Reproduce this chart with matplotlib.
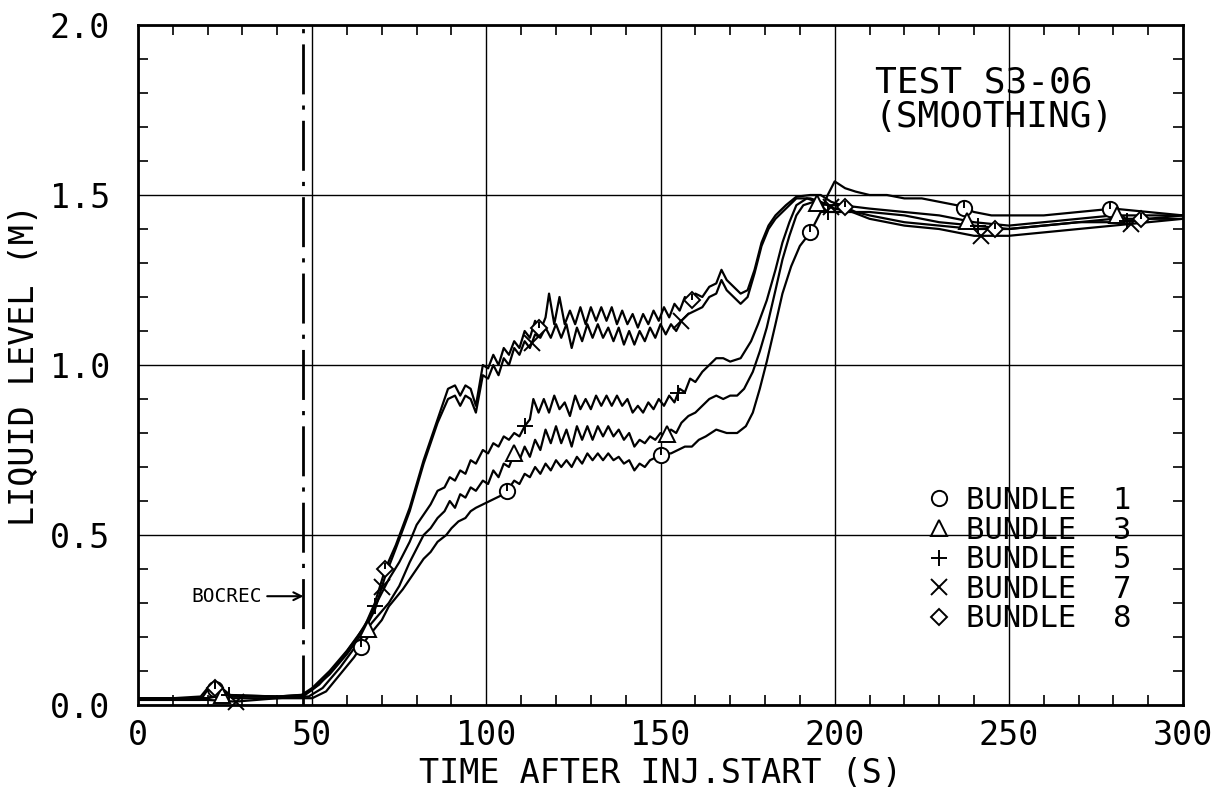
import matplotlib
matplotlib.use("Agg")
import matplotlib.pyplot as plt
from matplotlib.lines import Line2D
import numpy as np

INK = "black"
FONT = "DejaVu Sans Mono"

# ---- data (time in s, liquid level in m) ----
b1_t = [0, 18, 20, 24, 27, 40, 50, 54, 58, 62, 66, 70, 72, 76, 80, 82, 84, 86, 88.5, 90, 92, 94, 95.5, 97,
        99, 101, 103, 105, 106, 108, 109.5, 111, 112.5, 114, 115.5, 117, 118.5, 120, 121.5, 123, 124.5, 126,
        127.5, 129, 130.5, 132, 133.5, 135, 136.5, 138, 139.5, 141, 142.5, 144, 145.5, 147, 149, 151, 153,
        155, 157, 159, 161, 163, 166, 169, 172, 174.5, 176.5, 178.5, 180.5, 183, 185, 187.5, 190, 193, 196,
        198, 200, 203, 206, 210, 215, 220, 225, 230, 235, 240, 245, 250, 260, 270, 280, 290, 300]
b1_l = [0.015, 0.015, 0.045, 0.05, 0.02, 0.02, 0.02, 0.04, 0.09, 0.14, 0.2, 0.25, 0.29, 0.34, 0.4, 0.43, 0.45,
        0.48, 0.5, 0.52, 0.54, 0.55, 0.57, 0.58, 0.59, 0.6, 0.61, 0.62, 0.63, 0.66, 0.65, 0.68, 0.67, 0.7, 0.68,
        0.71, 0.69, 0.72, 0.7, 0.72, 0.7, 0.73, 0.71, 0.74, 0.72, 0.74, 0.72, 0.74, 0.72, 0.73, 0.71, 0.72, 0.69,
        0.71, 0.7, 0.72, 0.73, 0.74, 0.74, 0.75, 0.76, 0.76, 0.78, 0.79, 0.81, 0.8, 0.8, 0.82, 0.86, 0.93, 1.01,
        1.12, 1.21, 1.29, 1.35, 1.39, 1.45, 1.5, 1.54, 1.52, 1.51, 1.5, 1.5, 1.49, 1.49, 1.48, 1.47, 1.45, 1.44,
        1.44, 1.44, 1.45, 1.46, 1.45, 1.44]

b3_t = [0, 20, 22, 40, 49, 53, 58, 63, 67, 72, 75, 78, 80, 82, 84, 86, 88, 89.5, 91, 92.5, 94, 95.5, 97, 99,
        100.5, 102, 103.5, 105, 106.5, 108, 109.5, 111, 112.5, 114, 115.5, 117, 118.5, 120, 121.5, 123, 124.5,
        126, 127.5, 129, 130.5, 132, 133.5, 135, 136.5, 138, 139.5, 141, 142.5, 144, 145.5, 147, 148.5, 150,
        151.5, 153, 154.5, 156, 158, 160, 162, 164, 166, 168, 170, 172, 174, 176.5, 178.5, 180.5, 183, 185, 187,
        189, 191, 194, 198, 202, 210, 220, 230, 240, 250, 260, 270, 280, 290, 300]
b3_l = [0.02, 0.02, 0.03, 0.025, 0.025, 0.05, 0.11, 0.18, 0.24, 0.3, 0.35, 0.42, 0.46, 0.5, 0.52, 0.55, 0.57,
        0.6, 0.58, 0.62, 0.61, 0.64, 0.63, 0.66, 0.65, 0.69, 0.67, 0.71, 0.7, 0.74, 0.72, 0.76, 0.73, 0.78, 0.75,
        0.81, 0.77, 0.82, 0.77, 0.81, 0.76, 0.82, 0.78, 0.82, 0.78, 0.82, 0.79, 0.82, 0.79, 0.81, 0.78, 0.8, 0.76,
        0.78, 0.77, 0.79, 0.78, 0.8, 0.79, 0.81, 0.8, 0.83, 0.85, 0.86, 0.88, 0.9, 0.91, 0.9, 0.91, 0.91, 0.93,
        0.98, 1.04, 1.11, 1.22, 1.31, 1.38, 1.44, 1.47, 1.48, 1.47, 1.47, 1.46, 1.45, 1.44, 1.42, 1.41, 1.42,
        1.43, 1.44, 1.44, 1.44]

b5_t = [0, 20, 25, 40, 48, 52, 58, 63, 66, 69.5, 72, 75, 78, 80, 82, 84, 86, 88, 89.5, 91, 92.5, 94, 95.5, 97,
        99, 100.5, 102, 103.5, 105, 106.5, 108, 109.5, 111, 112.5, 113.5, 115, 116.5, 118, 119.5, 121, 122.5,
        124, 125.5, 127, 128.5, 130, 131.5, 133, 134.5, 136, 137.5, 139, 140.5, 142, 143.5, 145, 146.5, 148,
        149.5, 151, 152.5, 154, 155.5, 157, 158.5, 160, 162, 164, 166, 168, 170, 173, 176, 178, 180.5, 183, 185,
        187, 189, 192, 195, 198, 202, 210, 220, 230, 240, 250, 260, 270, 280, 290, 300]
b5_l = [0.02, 0.02, 0.03, 0.025, 0.03, 0.06, 0.13, 0.2, 0.25, 0.32, 0.37, 0.42, 0.48, 0.53, 0.56, 0.59, 0.63,
        0.64, 0.67, 0.66, 0.69, 0.68, 0.72, 0.71, 0.75, 0.74, 0.77, 0.76, 0.79, 0.78, 0.8, 0.79, 0.82, 0.84, 0.9,
        0.86, 0.9, 0.86, 0.91, 0.87, 0.89, 0.85, 0.91, 0.87, 0.9, 0.87, 0.91, 0.88, 0.91, 0.88, 0.91, 0.88, 0.9,
        0.86, 0.88, 0.86, 0.89, 0.87, 0.9, 0.88, 0.91, 0.89, 0.93, 0.92, 0.96, 0.95, 0.98, 1.0, 1.02, 1.02, 1.01,
        1.02, 1.07, 1.12, 1.19, 1.28, 1.36, 1.42, 1.47, 1.49, 1.48, 1.45, 1.45, 1.45, 1.44, 1.42, 1.41, 1.4,
        1.41, 1.42, 1.42, 1.43, 1.43]

b7_t = [0, 20, 28, 40, 47, 50, 55, 60, 65, 68, 71, 74, 78, 82, 86, 89, 91, 92.5, 94, 95.5, 97, 99, 100.5, 102,
        103.5, 105, 106.5, 108, 109.5, 111, 112.5, 114, 115.5, 117, 118.5, 120, 121.5, 123, 124.5, 126, 127.5,
        129, 130.5, 132, 133.5, 135, 136.5, 138, 139.5, 141, 142.5, 144, 145.5, 147, 148.5, 150, 151.5, 153,
        154.5, 156, 158, 160, 162, 164, 166, 167.5, 169, 171, 173, 175, 177, 179, 181, 183, 186, 189, 193, 196,
        200, 205, 210, 220, 230, 240, 250, 260, 270, 280, 290, 300]
b7_l = [0.015, 0.015, 0.01, 0.02, 0.025, 0.045, 0.09, 0.15, 0.22, 0.28, 0.38, 0.46, 0.57, 0.71, 0.83, 0.9, 0.91,
        0.88, 0.91, 0.9, 0.86, 0.97, 0.96, 1.0, 0.97, 1.02, 1.0, 1.05, 1.03, 1.07, 1.05, 1.09, 1.08, 1.11, 1.08,
        1.12, 1.08, 1.12, 1.05, 1.11, 1.07, 1.12, 1.08, 1.12, 1.08, 1.11, 1.07, 1.11, 1.06, 1.1, 1.06, 1.1, 1.07,
        1.11, 1.08, 1.12, 1.09, 1.12, 1.1, 1.13, 1.15, 1.16, 1.17, 1.2, 1.21, 1.25, 1.22, 1.2, 1.18, 1.2, 1.27,
        1.35, 1.4, 1.43, 1.46, 1.49, 1.49, 1.48, 1.46, 1.45, 1.43, 1.41, 1.4, 1.38, 1.38, 1.39, 1.4, 1.41, 1.42,
        1.43]

b8_t = [0, 10, 18, 20, 24, 27, 40, 47, 50, 55, 60, 65, 68, 71, 74, 78, 82, 86, 89, 91, 92.5, 94, 95.5, 97, 99,
        100.5, 102, 103.5, 105, 106.5, 108, 109.5, 111, 112.5, 114, 115.5, 117, 118, 119.5, 121, 122.5, 124,
        125.5, 127, 128.5, 130, 131.5, 133, 134.5, 136, 137.5, 139, 140.5, 142, 143.5, 145, 146.5, 148, 149.5,
        151, 152.5, 154, 155.5, 157, 158.5, 160, 162, 164, 166, 167.5, 169, 171, 173, 175, 177, 179, 181, 183,
        186, 189, 193, 196, 199, 202, 206, 210, 220, 230, 240, 250, 260, 270, 280, 290, 300]
b8_l = [0.02, 0.02, 0.025, 0.05, 0.05, 0.025, 0.025, 0.03, 0.05, 0.1, 0.16, 0.23, 0.3, 0.4, 0.47, 0.58, 0.72,
        0.84, 0.93, 0.94, 0.91, 0.94, 0.93, 0.88, 1.0, 0.99, 1.03, 1.0, 1.05, 1.03, 1.07, 1.05, 1.1, 1.08, 1.13,
        1.1, 1.14, 1.21, 1.12, 1.2, 1.12, 1.16, 1.12, 1.17, 1.12, 1.17, 1.13, 1.17, 1.13, 1.17, 1.12, 1.16, 1.12,
        1.15, 1.11, 1.15, 1.12, 1.16, 1.13, 1.17, 1.14, 1.18, 1.16, 1.2, 1.18, 1.21, 1.2, 1.23, 1.24, 1.28, 1.25,
        1.23, 1.21, 1.22, 1.28, 1.36, 1.41, 1.44, 1.47, 1.495, 1.5, 1.5, 1.48, 1.47, 1.45, 1.44, 1.42, 1.41, 1.4,
        1.4, 1.41, 1.42, 1.43, 1.43, 1.44]

# marker times along each curve
b1_marks = [22, 64, 106, 150, 193, 237, 279]
b3_marks = [24, 66, 108, 152, 195, 238, 281]
b5_marks = [26, 68, 111, 155, 198, 241, 284]
b7_marks = [28, 70, 113, 156, 199, 242, 285]
b8_marks = [22, 71, 115, 159, 203, 246, 288]

bundle_labels = ["BUNDLE  1", "BUNDLE  3", "BUNDLE  5", "BUNDLE  7", "BUNDLE  8"]
bundle_markers = ["o", "^", "+", "x", "D"]

bocrec_time = 47.5

x_major = [0, 50, 100, 150, 200, 250, 300]
y_major = [0.0, 0.5, 1.0, 1.5, 2.0]


def draw_bundle(ax, t, lev, marks, marker):
    ax.plot(t, lev, color=INK, lw=1.6, zorder=3)
    mt = np.array(marks, dtype=float)
    ml = np.interp(mt, t, lev)
    ms = 8 if marker == "D" else 11
    ax.plot(mt, ml, linestyle="none", marker=marker, ms=ms, mfc="white" if marker in "o^D" else "none",
            mec=INK, mew=1.4, zorder=4, clip_on=False)
    if marker in "oD":
        # small stroke inside circle / diamond as on the plotter symbols
        ax.plot(mt, ml, linestyle="none", marker=2, ms=ms / 2, mec=INK, mew=1.4, zorder=5, clip_on=False)


fig = plt.figure(figsize=(12.2, 7.96), dpi=100)
ax = fig.add_axes([0.1131, 0.1143, 0.8566, 0.8543])

series = [(b1_t, b1_l, b1_marks), (b3_t, b3_l, b3_marks), (b5_t, b5_l, b5_marks),
          (b7_t, b7_l, b7_marks), (b8_t, b8_l, b8_marks)]
for (t, lev, marks), mk in zip(series, bundle_markers):
    draw_bundle(ax, t, lev, marks, mk)

ax.axvline(bocrec_time, color=INK, lw=2.0, dashes=(18, 4, 1.5, 4), zorder=2)

ax.set_xlim(0, 300)
ax.set_ylim(0, 2.0)
ax.set_xticks(x_major)
ax.set_yticks(y_major)
ax.set_xticklabels([str(v) for v in x_major])
ax.set_yticklabels([f"{v:.1f}" for v in y_major])
ax.set_xticks(np.arange(0, 301, 10), minor=True)
ax.set_yticks(np.arange(0, 2.01, 0.1), minor=True)
ax.tick_params(which="both", direction="in", top=True, right=True, color=INK)
ax.tick_params(which="major", length=0, labelsize=24)
ax.tick_params(axis="x", which="major", pad=10)
ax.tick_params(axis="y", which="major", pad=20)
ax.tick_params(which="minor", length=7, width=1.2)
for lab in ax.get_xticklabels() + ax.get_yticklabels():
    lab.set_family(FONT)

ax.grid(True, which="major", color=INK, lw=1.0)
for s in ax.spines.values():
    s.set_linewidth(2.0)
    s.set_zorder(5)

ax.set_xlabel("TIME AFTER INJ.START (S)", family=FONT, fontsize=24, labelpad=4)
ax.set_ylabel("LIQUID LEVEL (M)", family=FONT, fontsize=24, labelpad=6)

ax.text(0.705, 0.94, "TEST S3-06\n(SMOOTHING)", transform=ax.transAxes, family=FONT,
        fontsize=26, va="top", ha="left", linespacing=1.0)

ax.annotate("BOCREC", xy=(bocrec_time, 0.32), xytext=(bocrec_time - 12, 0.32),
            family=FONT, fontsize=14, va="center", ha="right",
            arrowprops=dict(arrowstyle="->", color=INK, lw=1.5, shrinkA=2, shrinkB=0))

handles = [Line2D([], [], linestyle="none", marker=m, ms=(8 if m == "D" else 11),
                  mfc="none", mec=INK, mew=1.4) for m in bundle_markers]
leg = ax.legend(handles, bundle_labels, loc="upper left", bbox_to_anchor=(0.74, 0.34), frameon=False,
                handlelength=1.0, handletextpad=0.4, labelspacing=0.02, borderaxespad=0.0,
                prop={"family": FONT, "size": 22})

fig.savefig("out.png", dpi=100, facecolor="white")
